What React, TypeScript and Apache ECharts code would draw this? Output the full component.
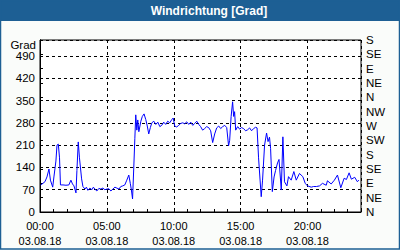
import React, { useEffect, useRef } from "react";
import * as echarts from "echarts";

const TITLE = "Windrichtung [Grad]";
const DATE_LABEL = "03.08.18";
const LEFT_TICKS = [0, 70, 140, 210, 280, 350, 420, 490];
const DIRECTIONS = ["N", "NE", "E", "SE", "S", "SW", "W", "NW", "N", "NE", "E", "SE", "S"];

const hours = [
  0.05, 0.22, 0.37, 0.52, 0.67, 0.78, 0.95, 1.04, 1.19, 1.27, 1.37, 1.46, 1.53, 1.72, 1.94, 2.16,
  2.31, 2.43, 2.54, 2.69, 2.76, 2.86, 2.95, 3.11, 3.21, 3.36, 3.47, 3.58, 3.73, 3.88, 3.99, 4.10,
  4.25, 4.40, 4.55, 4.70, 4.85, 5.00, 5.15, 5.30, 5.45, 5.60, 5.75, 5.90, 6.04, 6.19, 6.34, 6.49,
  6.64, 6.75, 6.83, 6.92, 7.01, 7.09, 7.16, 7.24, 7.31, 7.39, 7.54, 7.65, 7.78, 7.91, 8.02, 8.13,
  8.25, 8.36, 8.51, 8.66, 8.81, 8.96, 9.10, 9.25, 9.40, 9.55, 9.70, 9.85, 9.96, 10.07, 10.22, 10.37,
  10.52, 10.67, 10.82, 10.97, 11.12, 11.27, 11.42, 11.57, 11.72, 11.87, 12.01, 12.16, 12.31, 12.46,
  12.61, 12.76, 12.91, 13.06, 13.21, 13.36, 13.51, 13.66, 13.81, 13.96, 14.10, 14.18, 14.29, 14.40,
  14.48, 14.55, 14.63, 14.78, 14.93, 15.07, 15.22, 15.37, 15.52, 15.67, 15.82, 15.97, 16.12, 16.23,
  16.34, 16.54, 16.64, 16.79, 16.94, 17.05, 17.16, 17.24, 17.37, 17.50, 17.61, 17.76, 17.87, 18.04,
  18.16, 18.28, 18.46, 18.58, 18.78, 18.98, 19.16, 19.40, 19.65, 19.83, 20.00, 20.28, 20.45, 20.67,
  20.90, 21.12, 21.40, 21.49, 21.77, 22.01, 22.24, 22.49, 22.74, 22.91, 23.11, 23.28, 23.53, 23.73,
  23.84,
];

const degrees = [
  85, 90, 95, 110, 135, 100, 78, 110, 160, 210, 213, 170, 85, 85, 84, 85,
  100, 88, 82, 60, 130, 220, 170, 104, 80, 72, 78, 68, 75, 70, 78, 72,
  66, 74, 72, 75, 70, 72, 73, 66, 72, 78, 75, 72, 80, 82, 85, 100,
  116, 90, 70, 41, 138, 230, 305, 257, 289, 252, 285, 300, 308, 290, 270, 245,
  265, 280, 285, 275, 282, 268, 272, 282, 275, 285, 280, 290, 295, 270, 267, 272,
  278, 280, 277, 283, 275, 282, 272, 278, 285, 275, 268, 257, 262, 268,
  265, 255, 218, 245, 264, 270, 262, 268, 272, 265, 208, 225, 300, 346,
  300, 315, 257, 268, 260, 265, 262, 255, 258, 264, 255, 262, 266, 264,
  170, 48, 100, 210, 248, 221, 235, 200, 64, 110, 130, 154, 165, 69,
  236, 95, 82, 111, 100, 127, 100, 121, 111, 90, 82, 78, 80, 80,
  82, 90, 84, 98, 88, 100, 116, 76, 106, 102, 123, 103, 109, 95,
  100,
];

const FONT = "Liberation Sans";
const BLUE = "#1d5f94";

export default function App() {
  const ref = useRef<HTMLDivElement>(null);
  useEffect(() => {
    document.body.style.margin = "0";
    if (!ref.current) return;
    const chart = echarts.init(ref.current, null, { renderer: "svg" });
    const data = hours.map((h, i) => [h, degrees[i]]);
    const dashed = { show: true, lineStyle: { color: "#000", type: [3, 3] as any, width: 1 } };
    chart.setOption({
      animation: false,
      backgroundColor: "#fafcfa",
      textStyle: { fontFamily: FONT },
      grid: {
        left: 40,
        right: 39,
        top: 40,
        bottom: 38,
        show: true,
        backgroundColor: "#ffffff",
        borderColor: "#000",
        borderWidth: 1,
      },
      xAxis: [
        {
          type: "value",
          min: 0,
          max: 24,
          interval: 5,
          axisLine: { show: true, lineStyle: { color: "#000" } },
          axisTick: { show: false },
          splitLine: dashed,
          axisLabel: {
            color: "#000",
            fontSize: 11,
            fontFamily: FONT,
            lineHeight: 15,
            margin: 6,
            showMaxLabel: false,
            formatter: (v: number) =>
              v >= 24 ? "" : `${String(v).padStart(2, "0")}:00\n${DATE_LABEL}`,
          },
        },
        {
          type: "value",
          position: "bottom",
          min: 0,
          max: 24,
          interval: 1,
          axisLine: { show: false },
          axisTick: { show: true, inside: true, length: 3, lineStyle: { color: "#000" } },
          splitLine: { show: false },
          axisLabel: { show: false },
        },
      ],
      yAxis: [
        {
          type: "value",
          min: 0,
          max: 540,
          interval: 70,
          axisLine: { show: true, lineStyle: { color: "#000" } },
          axisTick: { show: false },
          splitLine: dashed,
          axisLabel: {
            color: "#000",
            fontSize: 11.5,
            fontFamily: FONT,
            margin: 5,
            formatter: (v: number) => (LEFT_TICKS.includes(v) ? String(v) : ""),
          },
        },
        {
          type: "value",
          position: "right",
          min: 0,
          max: 540,
          interval: 45,
          axisLine: { show: true, lineStyle: { color: "#000" } },
          axisTick: { show: true, length: 3, lineStyle: { color: "#000" } },
          splitLine: { show: false },
          axisLabel: {
            color: "#000",
            fontSize: 11.5,
            fontFamily: FONT,
            margin: 5,
            formatter: (v: number) => DIRECTIONS[Math.round(v / 45)] ?? "",
          },
        },
      ],
      graphic: [
        {
          type: "rect",
          shape: { x: 0, y: 0, width: 400, height: 21 },
          style: { fill: BLUE },
          silent: true,
        },
        {
          type: "text",
          x: 209,
          y: 11,
          style: {
            text: TITLE,
            fill: "#ffffff",
            font: `bold 12px "${FONT}"`,
            textAlign: "center",
            textVerticalAlign: "middle",
          },
        },
        {
          type: "rect",
          shape: { x: 0.5, y: 0.5, width: 399, height: 248.5 },
          style: { fill: "none", stroke: BLUE, lineWidth: 1.5 },
          silent: true,
        },
        {
          type: "text",
          x: 36,
          y: 44.5,
          style: {
            text: "Grad",
            fill: "#000",
            font: `11.5px "${FONT}"`,
            textAlign: "right",
            textVerticalAlign: "middle",
          },
        },
      ],
      series: [
        {
          type: "line",
          xAxisIndex: 0,
          yAxisIndex: 0,
          data,
          showSymbol: false,
          symbol: "none",
          lineStyle: { color: "#0000ff", width: 1 },
        },
      ],
    });
    return () => chart.dispose();
  }, []);
  return <div ref={ref} style={{ width: 400, height: 250 }} />;
}
